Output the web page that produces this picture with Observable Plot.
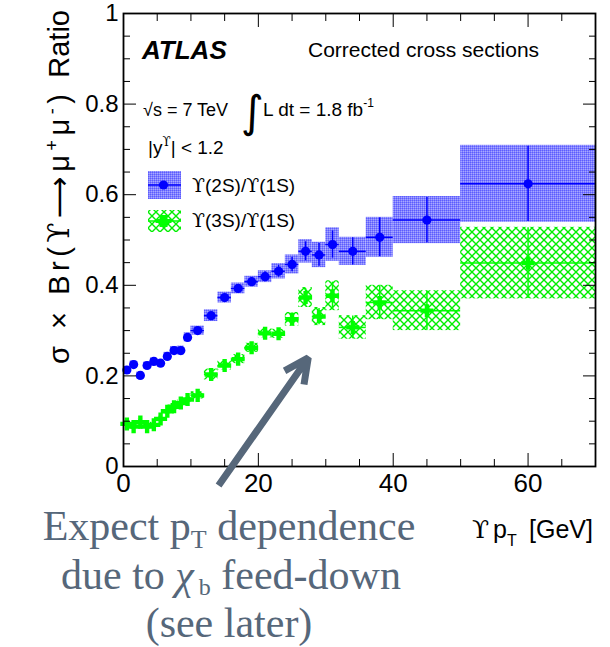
<!DOCTYPE html>
<html><head><meta charset="utf-8">
<script src="https://cdn.jsdelivr.net/npm/d3@7"></script>
<script src="https://cdn.jsdelivr.net/npm/@observablehq/plot@0.6"></script>
<style>
body{margin:0;background:#fff;}
#wrap{position:relative;width:610px;height:647px;overflow:hidden;}
#wrap > svg{position:absolute;left:0;top:0;}
#overlay{pointer-events:none;}
.ups{font-family:"DejaVu Serif", serif;}
</style></head><body>
<div id="wrap"></div>
<script>
// ---- data ----
const ptCenter = [0.5,1.5,2.5,3.5,4.5,5.5,6.5,7.5,8.5,9.5,11,13,15,17,19,21,23,25,27,29,31,34,38,45,60];
const ptLow    = [0,1,2,3,4,5,6,7,8,9,10,12,14,16,18,20,22,24,26,28,30,32,36,40,50];
const ptHigh   = [1,2,3,4,5,6,7,8,9,10,12,14,16,18,20,22,24,26,28,30,32,36,40,50,70];

const ratio2S = [0.213,0.225,0.201,0.223,0.232,0.228,0.243,0.256,0.256,0.285,0.300,0.333,0.373,0.393,0.408,0.419,0.431,0.446,0.475,0.467,0.490,0.475,0.506,0.544,0.624];
const syst2S  = [0.008,0.008,0.008,0.008,0.008,0.008,0.009,0.009,0.010,0.010,0.010,0.013,0.012,0.012,0.012,0.013,0.017,0.021,0.026,0.028,0.037,0.031,0.044,0.052,0.085];
const stat2S  = [0.004,0.004,0.004,0.004,0.004,0.004,0.004,0.005,0.005,0.005,0.005,0.006,0.007,0.008,0.009,0.011,0.013,0.016,0.021,0.025,0.030,0.030,0.043,0.050,0.083];

const ratio3S = [0.094,0.088,0.098,0.088,0.092,0.105,0.122,0.132,0.140,0.148,0.157,0.203,0.223,0.237,0.262,0.294,0.293,0.325,0.373,0.331,0.377,0.307,0.362,0.344,0.449];
const syst3S  = [0.006,0.006,0.006,0.006,0.006,0.006,0.006,0.007,0.007,0.007,0.008,0.012,0.010,0.010,0.010,0.010,0.010,0.015,0.022,0.020,0.033,0.026,0.038,0.044,0.079];
const stat3S  = [0.003,0.003,0.003,0.003,0.003,0.003,0.003,0.004,0.004,0.004,0.004,0.006,0.006,0.007,0.008,0.009,0.011,0.014,0.020,0.018,0.030,0.025,0.037,0.043,0.078];

const xMajorTicks = [0,20,40,60];
const xMinorTicks = [5,10,15,25,30,35,45,50,55,65];
const yMajorTicks = [0,0.2,0.4,0.6,0.8,1];
const yMinorTicks = [0.05,0.1,0.15,0.25,0.3,0.35,0.45,0.5,0.55,0.65,0.7,0.75,0.85,0.9,0.95];

const arrowFrom = [14.1, -0.042];
const arrowTo   = [27.4, 0.240];

// ---- tables ----
const rows2S = ptCenter.map((x,i)=>({x, lo:ptLow[i], hi:ptHigh[i], y:ratio2S[i], sys:syst2S[i], st:stat2S[i]}));
const rows3S = ptCenter.map((x,i)=>({x, lo:ptLow[i], hi:ptHigh[i], y:ratio3S[i], sys:syst3S[i], st:stat3S[i]}));
const arrowRows = [{x1:arrowFrom[0], y1:arrowFrom[1], x2:arrowTo[0], y2:arrowTo[1]}];

const BLUE = "#0000ff", GREEN = "#00ff00", SLATE = "#56677a";
const FONT = "'Liberation Sans', Arial, Helvetica, sans-serif";

const chart = Plot.plot({
  width: 610, height: 647,
  marginLeft: 123, marginRight: 15, marginTop: 13, marginBottom: 181,
  x: {domain: [0, 70]},
  y: {domain: [0, 1]},
  style: {fontFamily: FONT, background: "transparent", color: "black", overflow: "visible"},
  marks: [
    Plot.rect(rows2S, {x1: "lo", x2: "hi", y1: d => d.y - d.sys, y2: d => d.y + d.sys, fill: "url(#blueChk)"}),
    Plot.rect(rows3S, {x1: "lo", x2: "hi", y1: d => d.y - d.sys, y2: d => d.y + d.sys, fill: "url(#greenHatch)"}),
    Plot.ruleY(rows2S, {x1: "lo", x2: "hi", y: "y", stroke: BLUE, strokeWidth: 1.5}),
    Plot.ruleX(rows2S, {x: "x", y1: d => d.y - d.st, y2: d => d.y + d.st, stroke: BLUE, strokeWidth: 1.5}),
    Plot.ruleY(rows3S, {x1: "lo", x2: "hi", y: "y", stroke: GREEN, strokeWidth: 1.5}),
    Plot.ruleX(rows3S, {x: "x", y1: d => d.y - d.st, y2: d => d.y + d.st, stroke: GREEN, strokeWidth: 1.5}),
    Plot.dot(rows2S, {x: "x", y: "y", r: 4.6, symbol: "circle", fill: BLUE}),
    Plot.dot(rows3S, {x: "x", y: "y", r: 5.5, symbol: "cross", fill: GREEN}),
    Plot.frame({stroke: "black", strokeWidth: 1.8}),
    // inward ticks on all four sides
    Plot.axisX(xMajorTicks, {anchor: "bottom", tickSize: -13, tickFormat: () => "", label: null}),
    Plot.axisX(xMinorTicks, {anchor: "bottom", tickSize: -7, tickFormat: () => "", label: null}),
    Plot.axisX(xMajorTicks, {anchor: "top", tickSize: -13, tickFormat: () => "", label: null}),
    Plot.axisX(xMinorTicks, {anchor: "top", tickSize: -7, tickFormat: () => "", label: null}),
    Plot.axisY(yMajorTicks, {anchor: "left", tickSize: -13, tickFormat: () => "", label: null}),
    Plot.axisY(yMinorTicks, {anchor: "left", tickSize: -7, tickFormat: () => "", label: null}),
    Plot.axisY(yMajorTicks, {anchor: "right", tickSize: -13, tickFormat: () => "", label: null}),
    Plot.axisY(yMinorTicks, {anchor: "right", tickSize: -7, tickFormat: () => "", label: null}),
    // tick labels
    Plot.axisX(xMajorTicks, {anchor: "bottom", tickSize: 0, tickPadding: 7, fontSize: 26, label: null, tickFormat: d => String(d)}),
    Plot.axisY(yMajorTicks, {anchor: "left", tickSize: 0, tickPadding: 5, fontSize: 24, label: null, tickFormat: d => String(d)}),
    // annotation arrow
    Plot.arrow(arrowRows, {x1: "x1", y1: "y1", x2: "x2", y2: "y2", stroke: SLATE, strokeWidth: 7, headLength: 5.8, headAngle: 52, strokeLinecap: "butt"})
  ]
});

const wrap = document.getElementById("wrap");
wrap.appendChild(chart);

const ov = `
<svg id="overlay" xmlns="http://www.w3.org/2000/svg" width="610" height="647" font-family="Liberation Sans, Arial, Helvetica, sans-serif">
 <defs>
  <pattern id="blueChk" patternUnits="userSpaceOnUse" width="4" height="4">
   <rect width="4" height="4" fill="#8080ff"/>
   <rect x="0" y="0" width="1" height="1" fill="#5c5cff"/><rect x="2" y="0" width="1" height="1" fill="#5c5cff"/>
   <rect x="1" y="1" width="1" height="1" fill="#a8a8ff"/><rect x="3" y="1" width="1" height="1" fill="#a8a8ff"/>
   <rect x="0" y="2" width="1" height="1" fill="#5c5cff"/><rect x="2" y="2" width="1" height="1" fill="#5c5cff"/>
   <rect x="1" y="3" width="1" height="1" fill="#a8a8ff"/><rect x="3" y="3" width="1" height="1" fill="#a8a8ff"/>
  </pattern>
  <pattern id="greenHatch" patternUnits="userSpaceOnUse" width="8" height="8">
   <path d="M0,0L8,8M8,0L0,8" stroke="#00ee00" stroke-width="1.4" fill="none"/>
  </pattern>
 </defs>
 <text x="142" y="59" font-size="26" font-weight="bold" font-style="italic">ATLAS</text>
 <text x="308" y="57" font-size="21">Corrected cross sections</text>
 <text x="143" y="116" font-size="18">√s = 7 TeV</text>
 <text x="241" y="127" font-size="44" font-family="DejaVu Sans">∫</text>
 <text x="263" y="116" font-size="19">L dt = 1.8 fb<tspan dy="-9" font-size="12">-1</tspan></text>
 <text x="148" y="154" font-size="19">|y<tspan class="ups" dy="-8" font-size="12">ϒ</tspan><tspan dy="8">| &lt; 1.2</tspan></text>
 <rect x="148" y="171" width="33" height="28" fill="url(#blueChk)"/>
 <line x1="148" x2="181" y1="185" y2="185" stroke="${BLUE}" stroke-width="1.5"/>
 <circle cx="163.5" cy="185" r="4.6" fill="${BLUE}"/>
 <text x="192" y="192" font-size="19"><tspan class="ups">ϒ</tspan>(2S)/<tspan class="ups">ϒ</tspan>(1S)</text>
 <rect x="148" y="210" width="33" height="22" fill="url(#greenHatch)"/>
 <line x1="148" x2="181" y1="221" y2="221" stroke="${GREEN}" stroke-width="1.5"/>
 <path d="M159.5,215h8v4h4v4h-4v4h-8v-4h-4v-4h4z" fill="${GREEN}"/>
 <text x="192" y="227" font-size="19"><tspan class="ups">ϒ</tspan>(3S)/<tspan class="ups">ϒ</tspan>(1S)</text>
 <text transform="translate(69,364) rotate(-90)" text-anchor="start" font-size="29" textLength="270" lengthAdjust="spacing">σ × Br(<tspan class="ups">ϒ</tspan><tspan font-family="DejaVu Sans">⟶</tspan>μ<tspan dy="-11" font-size="18">+</tspan><tspan dy="11">μ</tspan><tspan dy="-11" font-size="18">-</tspan><tspan dy="11">)</tspan></text>
 <text transform="translate(69,10) rotate(-90)" text-anchor="end" font-size="29">Ratio</text>
 <text y="538" font-size="25"><tspan class="ups" x="472">ϒ</tspan><tspan x="493">p</tspan><tspan dy="8" font-size="16">T</tspan><tspan x="529" dy="-8">[GeV]</tspan></text>
 <g font-family="Liberation Serif, Times New Roman, serif" font-size="42" fill="${SLATE}">
  <text x="229" y="540" text-anchor="middle">Expect p<tspan dy="8" font-size="26">T</tspan><tspan dy="-8"> dependence</tspan></text>
  <text x="231" y="589" text-anchor="middle">due to <tspan font-style="italic">χ</tspan><tspan dx="5" dy="6" font-size="24">b</tspan><tspan dy="-6"> feed-down</tspan></text>
  <text x="229" y="637" text-anchor="middle">(see later)</text>
 </g>
</svg>`;
wrap.insertAdjacentHTML("beforeend", ov);
</script>
</body></html>
